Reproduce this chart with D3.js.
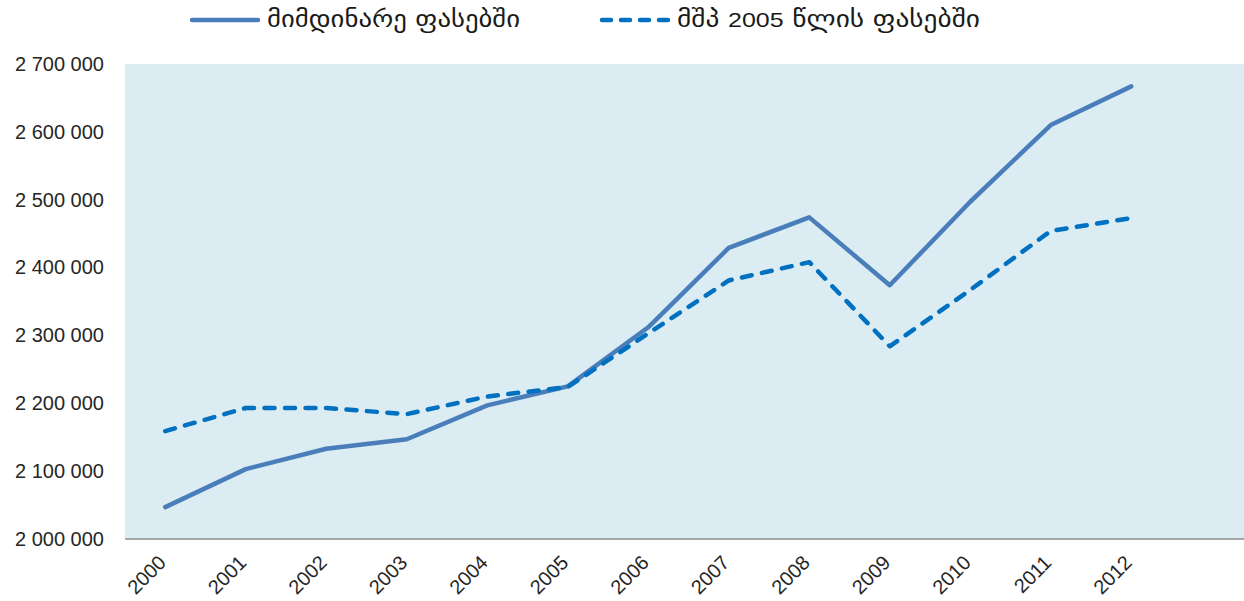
<!DOCTYPE html>
<html>
<head>
<meta charset="utf-8">
<script src="https://cdn.jsdelivr.net/npm/d3@7"></script>
<style>
  body { margin: 0; background: #fff; }
  svg { display: block; font-family: "Liberation Sans", Arial, "DejaVu Sans", sans-serif; }
</style>
</head>
<body>
<div id="chart"></div>
<script>
const years = ["2000", "2001", "2002", "2003", "2004", "2005", "2006", "2007", "2008", "2009", "2010", "2011", "2012"];
const currentPrices = [2047000, 2103000, 2133000, 2147000, 2197000, 2225000, 2312000, 2429000, 2474000, 2374000, 2497000, 2610000, 2667000];
const prices2005 = [2159000, 2193000, 2193000, 2184000, 2210000, 2224000, 2303000, 2381000, 2408000, 2284000, 2367000, 2454000, 2473000];
const yTicks = [2000000, 2100000, 2200000, 2300000, 2400000, 2500000, 2600000, 2700000];
// legend names split into pieces: [text, isGeorgian]
const seriesNames = [
    [["მიმდინარე ფასებში", true]],
    [["მშპ ", true], ["2005", false], [" წლის ფასებში", true]]
];

const width = 1244, height = 601;
const margin = { top: 64, right: 0, bottom: 62, left: 125 };
const slot = 80.5;

const svg = d3.select("#chart").append("svg")
    .attr("width", width)
    .attr("height", height);

const x = d3.scaleBand()
    .domain(years)
    .range([margin.left, margin.left + slot * years.length]);

const y = d3.scaleLinear()
    .domain([2000000, 2700000])
    .range([height - margin.bottom, margin.top]);

// plot background
svg.append("rect")
    .attr("x", margin.left)
    .attr("y", margin.top)
    .attr("width", width - margin.left)
    .attr("height", y(2000000) - margin.top)
    .attr("fill", "#dbedf3");

// y axis labels
const fmt = d => d3.format(",")(d).replace(/,/g, " ");
const yAxis = svg.append("g")
    .attr("transform", `translate(${margin.left}, 0)`)
    .call(d3.axisLeft(y).tickValues(yTicks).tickSize(0).tickPadding(21).tickFormat(fmt));
yAxis.select(".domain").remove();
yAxis.selectAll("text")
    .attr("fill", "#262626")
    .style("font-size", "20px")
    .style("font-family", "Liberation Sans, Arial, sans-serif");

// x axis
const xAxis = svg.append("g")
    .attr("transform", `translate(0, ${y(2000000)})`)
    .call(d3.axisBottom(x).tickSize(0).tickPadding(0));
xAxis.select(".domain")
    .attr("d", `M${margin.left},0H${width}`)
    .attr("stroke", "#8c8c8c")
    .attr("stroke-width", 1.5);
xAxis.selectAll("text")
    .attr("fill", "#262626")
    .style("font-size", "20px")
    .style("font-family", "Liberation Sans, Arial, sans-serif")
    .attr("text-anchor", "end")
    .attr("y", 0)
    .attr("dy", "0.35em")
    .attr("transform", "translate(-3, 20) rotate(-45)");

const line = d3.line()
    .x((d, i) => x(years[i]) + x.bandwidth() / 2)
    .y(d => y(d));

svg.append("path")
    .datum(currentPrices)
    .attr("fill", "none")
    .attr("stroke", "#4a7ebb")
    .attr("stroke-width", 4.5)
    .attr("stroke-linejoin", "round")
    .attr("stroke-linecap", "round")
    .attr("d", line);

svg.append("path")
    .datum(prices2005)
    .attr("fill", "none")
    .attr("stroke", "#0070c0")
    .attr("stroke-width", 4.5)
    .attr("stroke-linejoin", "round")
    .attr("stroke-linecap", "round")
    .attr("stroke-dasharray", "10 10.5")
    .attr("d", line);

// legend
const legendItems = [
    { parts: seriesNames[0], x: 192, color: "#4a7ebb", dash: null, len: 253 },
    { parts: seriesNames[1], x: 602, color: "#0070c0", dash: "9 10", len: 303 }
];
const legend = svg.selectAll(".legend")
    .data(legendItems)
    .enter()
    .append("g")
    .attr("class", "legend")
    .attr("transform", d => `translate(${d.x}, 20)`);

legend.append("line")
    .attr("x1", 0)
    .attr("x2", 66)
    .attr("stroke", d => d.color)
    .attr("stroke-width", 4.5)
    .attr("stroke-linecap", "round")
    .attr("stroke-dasharray", d => d.dash);

const legendText = legend.append("text")
    .attr("x", 75)
    .attr("y", 7)
    .attr("fill", "#1a1a1a")
    .attr("textLength", d => d.len)
    .attr("lengthAdjust", "spacingAndGlyphs");

legendText.selectAll("tspan")
    .data(d => d.parts)
    .enter()
    .append("tspan")
    .style("font-family", d => d[1] ? "DejaVu Sans, sans-serif" : "Liberation Sans, Arial, sans-serif")
    .style("font-size", d => d[1] ? "23px" : "21px")
    .text(d => d[0]);
</script>
</body>
</html>
